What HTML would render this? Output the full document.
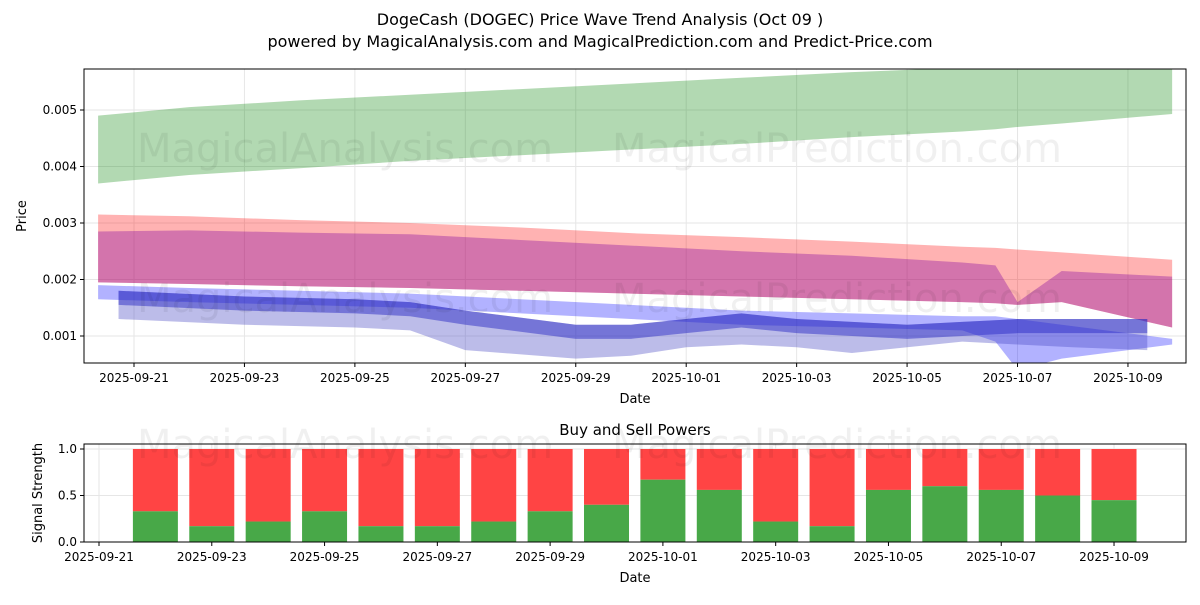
<!DOCTYPE html>
<html><head><meta charset="utf-8"><style>
body{margin:0;background:#fff;font-family:"Liberation Sans","DejaVu Sans",sans-serif}
svg text{font-family:"DejaVu Sans","Liberation Sans",sans-serif}
</style></head><body>
<svg id="c" width="1200" height="600" xmlns="http://www.w3.org/2000/svg">
<rect width="1200" height="600" fill="#fff"/>
<text x="600" y="25" text-anchor="middle" font-size="16">DogeCash (DOGEC) Price Wave Trend Analysis (Oct 09 )</text>
<text x="600" y="47" text-anchor="middle" font-size="16">powered by MagicalAnalysis.com and MagicalPrediction.com and Predict-Price.com</text>
<g id="topg"></g><g id="botg"></g>
</svg>
<script>
// ---- data (top chart, prices in 0.001 units, x = days since 2025-09-21) ----
const bandDays = [-0.65,1,3,5,7,9,11,13,15,15.6,16,16.8,18.8];
const greenUpper = [4.9,5.05,5.17,5.27,5.37,5.47,5.57,5.67,5.75,5.78,5.8,5.82,5.72];
const greenLower = [3.7,3.85,3.97,4.1,4.2,4.3,4.4,4.52,4.62,4.66,4.7,4.76,4.93];
const redUpper = [3.15,3.12,3.05,3.0,2.92,2.82,2.75,2.67,2.58,2.56,2.53,2.48,2.35];
const redLower = [1.95,1.92,1.88,1.85,1.8,1.75,1.7,1.65,1.6,1.58,1.55,1.6,1.15];
const purpleUpper = [2.85,2.87,2.83,2.8,2.7,2.6,2.5,2.42,2.3,2.25,1.6,2.15,2.05];
const purpleLower = [1.95,1.92,1.88,1.85,1.8,1.75,1.7,1.65,1.6,1.58,1.55,1.6,1.15];
const blueUpper = [1.9,1.85,1.8,1.75,1.65,1.55,1.45,1.4,1.35,1.35,1.3,1.2,0.95];
const blueLower = [1.65,1.6,1.55,1.5,1.4,1.3,1.2,1.15,1.1,0.9,0.4,0.6,0.85];
const waveDays = [-0.28,2,4,5,6,8,9,10,11,12,13,14,15,16,17,18.35];
const waveUpper = [1.8,1.7,1.65,1.6,1.45,1.2,1.2,1.3,1.4,1.3,1.25,1.2,1.25,1.3,1.3,1.3];
const waveLower = [1.3,1.2,1.15,1.1,0.75,0.6,0.65,0.8,0.85,0.8,0.7,0.8,0.9,0.85,0.8,0.75];
const topTicks = ["2025-09-21","2025-09-23","2025-09-25","2025-09-27","2025-09-29","2025-10-01","2025-10-03","2025-10-05","2025-10-07","2025-10-09"];
const priceTicks = [0.001,0.002,0.003,0.004,0.005];
// ---- data (bottom chart) ----
const barDays = [1,2,3,4,5,6,7,8,9,10,11,12,13,14,15,16,17,18];
const buyPower = [0.33,0.17,0.22,0.33,0.17,0.17,0.22,0.33,0.4,0.67,0.56,0.22,0.17,0.56,0.6,0.56,0.5,0.45];
const sigTicks = [0,0.5,1.0];
const botTicks = ["2025-09-21","2025-09-23","2025-09-25","2025-09-27","2025-09-29","2025-10-01","2025-10-03","2025-10-05","2025-10-07","2025-10-09"];

const NS="http://www.w3.org/2000/svg";
function mk(p,t,a){const e=document.createElementNS(NS,t);for(const k in a)e.setAttribute(k,a[k]);p.appendChild(e);return e;}
const topG=document.getElementById('topg'),botG=document.getElementById('botg');
const X=d=>134+d*55.22, Y=v=>336-(v-1)*56.5;
const X2=d=>99+d*56.39, Y2=v=>542-v*93;
const cp=mk(topG,'clipPath',{id:'cp'});
mk(cp,'rect',{x:84,y:69,width:1102,height:294});
topTicks.forEach((t,i)=>{const x=X(i*2);
 const g=mk(topG,'line',{x1:x,x2:x,y1:69,y2:363,stroke:'#e6e6e6'});
 
 
 mk(topG,'line',{x1:x,x2:x,y1:363,y2:367,stroke:'#000'});
 const tx=mk(topG,'text',{x:x,y:382,'text-anchor':'middle','font-size':12});tx.textContent=t;
 
 });
priceTicks.forEach(v=>{const y=Y(v*1000);
 mk(topG,'line',{x1:84,x2:1186,y1:y,y2:y,stroke:'#e6e6e6'});
 mk(topG,'line',{x1:80,x2:84,y1:y,y2:y,stroke:'#000'});
 const tx=mk(topG,'text',{x:77,y:y+4,'text-anchor':'end','font-size':12});tx.textContent=v.toFixed(3);
 
 });
function band(days,up,lo,fill,op,name){
 let d='M'+days.map((t,i)=>X(t)+','+Y(up[i])).join('L');
 for(let i=days.length-1;i>=0;i--)d+='L'+X(days[i])+','+Y(lo[i]);
 const p=mk(topG,'path',{d:d+'Z',fill:fill,'fill-opacity':op,'clip-path':'url(#cp)'});
 
 }
band(bandDays,greenUpper,greenLower,'#008000',0.3,'green-band');
band(bandDays,redUpper,redLower,'#ff0000',0.3,'red-band');
band(bandDays,purpleUpper,purpleLower,'#8000a0',0.35,'purple-band');
band(bandDays,blueUpper,blueLower,'#0000ff',0.3,'blue-band');
band(waveDays,waveUpper,waveLower,'#4040c0',0.35,'wave-band');
band(waveDays,waveUpper,waveUpper.map((v,i)=>v-0.25),'#2020c0',0.45,'wave-core');
[[345,162],[837,162],[345,312],[837,312]].forEach((p,i)=>{
 const w=mk(topG,'text',{x:p[0],y:p[1],'text-anchor':'middle','font-size':40,fill:'#000','fill-opacity':0.06});
 w.textContent=i%2?'MagicalPrediction.com':'MagicalAnalysis.com';
 
 });
const f1=mk(topG,'rect',{x:84,y:69,width:1102,height:294,fill:'none',stroke:'#000'});


const xl=mk(topG,'text',{x:635,y:403,'text-anchor':'middle','font-size':13});xl.textContent='Date';


const yl=mk(topG,'text',{x:26,y:216,'text-anchor':'middle','font-size':13,transform:'rotate(-90 26 216)'});yl.textContent='Price';



// bottom
const bt=mk(botG,'text',{x:635,y:435,'text-anchor':'middle','font-size':15});bt.textContent='Buy and Sell Powers';


sigTicks.forEach(v=>{const y=Y2(v);
 mk(botG,'line',{x1:84,x2:1186,y1:y,y2:y,stroke:'#e6e6e6'});
 mk(botG,'line',{x1:80,x2:84,y1:y,y2:y,stroke:'#000'});
 const tx=mk(botG,'text',{x:77,y:y+4,'text-anchor':'end','font-size':12});tx.textContent=v.toFixed(1);
 
 });
botTicks.forEach((t,i)=>{const x=X2(i*2);
 mk(botG,'line',{x1:x,x2:x,y1:444,y2:542,stroke:'#e6e6e6'});
 mk(botG,'line',{x1:x,x2:x,y1:542,y2:546,stroke:'#000'});
 const tx=mk(botG,'text',{x:x,y:561,'text-anchor':'middle','font-size':12});tx.textContent=t;
 
 });
barDays.forEach((d,i)=>{const x=X2(d)-22.5,b=buyPower[i];
 const r=mk(botG,'rect',{x:x,y:Y2(1),width:45,height:Y2(b)-Y2(1),fill:'#ff4444'});
 
 
 const g=mk(botG,'rect',{x:x,y:Y2(b),width:45,height:Y2(0)-Y2(b),fill:'#48a848'});
 
 });
[[345,458],[837,458]].forEach((p,i)=>{
 const w=mk(botG,'text',{x:p[0],y:p[1],'text-anchor':'middle','font-size':40,fill:'#000','fill-opacity':0.06});
 w.textContent=i?'MagicalPrediction.com':'MagicalAnalysis.com';
 
 });
const f2=mk(botG,'rect',{x:84,y:444,width:1102,height:98,fill:'none',stroke:'#000'});


const xl2=mk(botG,'text',{x:635,y:582,'text-anchor':'middle','font-size':13});xl2.textContent='Date';


const yl2=mk(botG,'text',{x:42,y:493,'text-anchor':'middle','font-size':13,transform:'rotate(-90 42 493)'});yl2.textContent='Signal Strength';


</script>
</body></html>
